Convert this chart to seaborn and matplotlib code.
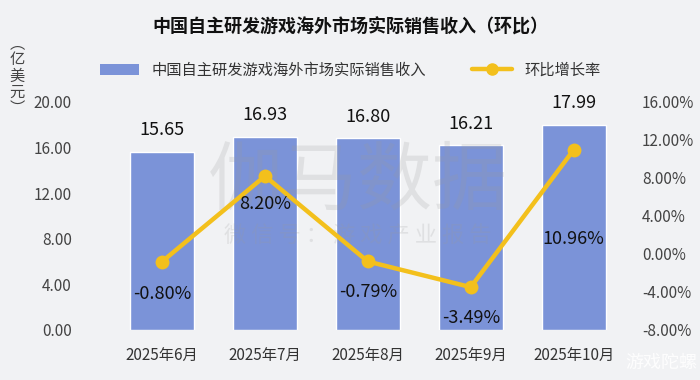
import numpy as np
import pandas as pd
import matplotlib
matplotlib.use("Agg")
import matplotlib.pyplot as plt
from matplotlib.lines import Line2D
from matplotlib.patches import Patch
import seaborn as sns

# ---------- data ----------
months = ["2025年6月", "2025年7月", "2025年8月", "2025年9月", "2025年10月"]
revenue = [15.65, 16.93, 16.80, 16.21, 17.99]          # 亿美元
mom_pct = [-0.80, 8.20, -0.79, -3.49, 10.96]           # 环比 %
left_ticks = [0, 4, 8, 12, 16, 20]
right_ticks = [-8, -4, 0, 4, 8, 12, 16]

title = "中国自主研发游戏海外市场实际销售收入（环比）"
bar_name = "中国自主研发游戏海外市场实际销售收入"
line_name = "环比增长率"

BAR_C = "#7b93d8"
LINE_C = "#f3c01c"
BG = "#f1f2f4"

sns.set_theme(style="white")
plt.rcParams["font.family"] = ["Noto Sans CJK SC", "DejaVu Sans"]

df = pd.DataFrame({"month": months, "revenue": revenue, "mom": mom_pct})

fig = plt.figure(figsize=(7, 3.8), dpi=100, facecolor=BG)
ax = fig.add_axes([0.158, 0.1316, 0.735, 0.6])
ax.set_facecolor(BG)

sns.barplot(data=df, x="month", y="revenue", order=months, color=BAR_C,
            width=0.62, saturation=1, ax=ax)
ax.set_ylim(0, 20)
ax.set_xlim(-0.5, len(months) - 0.5)
ax.set_yticks(left_ticks)
ax.set_yticklabels([f"{v:.2f}" for v in left_ticks])
ax.set_xlabel("")
ax.set_ylabel("")
ax.tick_params(axis="both", length=0, labelsize=11, colors="#444444")
ax.tick_params(axis="x", pad=12, labelcolor="#333333")
ax.tick_params(axis="y", pad=28)
for s in ax.spines.values():
    s.set_visible(False)

for i, v in enumerate(revenue):
    ax.annotate(f"{v:.2f}", (i, v), xytext=(0, 9), textcoords="offset points",
                ha="center", va="bottom", fontsize=13, color="#111111")

# watermark
ax.text(0.48, 0.65, "伽马数据", transform=ax.transAxes, ha="center", va="center",
        fontsize=54, color="#9a9a9a", alpha=0.2, zorder=5)
ax.text(0.48, 0.41, "微 信 号 ： 游 戏 产 业 报 告", transform=ax.transAxes,
        ha="center", va="center", fontsize=16, color="#9a9a9a", alpha=0.2, zorder=5)

ax2 = ax.twinx()
sns.lineplot(x=np.arange(len(months)), y=mom_pct, color=LINE_C, linewidth=3.2,
             marker="o", markersize=10, markeredgewidth=0, ax=ax2, zorder=4)
ax2.set_ylim(-8, 16)
ax2.set_yticks(right_ticks)
ax2.set_yticklabels([f"{v:.2f}%" for v in right_ticks])
ax2.tick_params(axis="y", length=0, labelsize=11, colors="#444444", pad=12)
for s in ax2.spines.values():
    s.set_visible(False)
ax2.grid(False)

label_offsets = [-23, -20, -22, -22, -64]
for i, (v, off) in enumerate(zip(mom_pct, label_offsets)):
    ax2.annotate(f"{v:.2f}%", (i, v), xytext=(0, off), textcoords="offset points",
                 ha="center", va="center", fontsize=13, color="#111111", zorder=6)

fig.text(0.5, 0.93, title, ha="center", va="center", fontsize=13,
         fontweight="bold", color="#111111")
fig.text(0.024, 0.80, "︵\n亿\n美\n元\n︶", ha="center", va="center",
         fontsize=11, color="#444444", linespacing=0.95)

handles = [Patch(facecolor=BAR_C, edgecolor="none"),
           Line2D([0], [0], color=LINE_C, lw=3.2, marker="o", markersize=8)]
fig.legend(handles, [bar_name, line_name], loc="center", bbox_to_anchor=(0.5, 0.815),
           ncol=2, frameon=False, fontsize=11, handlelength=2.6, columnspacing=3.0,
           labelcolor="#333333")

fig.text(0.945, 0.045, "游戏陀螺", ha="center", va="center", fontsize=13,
         color="#ffffff", alpha=0.9)

fig.savefig("out.png", dpi=100, facecolor=BG)
